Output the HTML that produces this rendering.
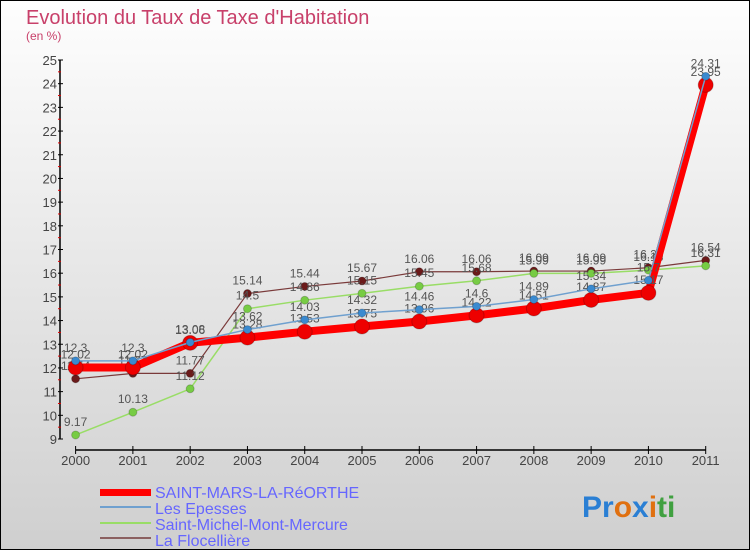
<!DOCTYPE html>
<html><head><meta charset="utf-8"><style>
body{margin:0;}
#c{width:750px;height:550px;position:relative;font-family:"Liberation Sans",sans-serif;}
</style></head><body>
<div id="c">
<svg id="s" width="750" height="550" xmlns="http://www.w3.org/2000/svg">
<defs><linearGradient id="bg" x1="0" y1="0" x2="0" y2="1"><stop offset="0" stop-color="#fefefe"/><stop offset="1" stop-color="#cfcfcf"/></linearGradient></defs>
<rect x="0.5" y="0.5" width="749" height="549" fill="url(#bg)" stroke="#000"/>
<text x="26" y="24" font-size="20" fill="#c8406a">Evolution du Taux de Taxe d'Habitation</text>
<text x="26" y="40" font-size="12" fill="#c8406a">(en %)</text>
<g id="axes"></g>
<g id="series"></g>
<g id="legend">
<rect x="100" y="489" width="51" height="7" fill="#f00"/>
<text x="155" y="498" font-size="16" fill="#6666ff">SAINT-MARS-LA-RéORTHE</text>
<rect x="100" y="506" width="51" height="2" fill="#6fa0cf"/>
<text x="155" y="514" font-size="16" fill="#6666ff">Les Epesses</text>
<rect x="100" y="522" width="51" height="2" fill="#99dd66"/>
<text x="155" y="530" font-size="16" fill="#6666ff">Saint-Michel-Mont-Mercure</text>
<rect x="100" y="537" width="51" height="2" fill="#8b6060"/>
<text x="155" y="546" font-size="16" fill="#6666ff">La Flocellière</text>
</g>
<text x="582" y="517" font-size="30" font-weight="bold"><tspan fill="#2a7fd4">Pr</tspan><tspan fill="#e07010">o</tspan><tspan fill="#2a7fd4">x</tspan><tspan fill="#e07010">i</tspan><tspan fill="#40a040">ti</tspan></text>
</svg>
</div>
<script>
const years=[2000,2001,2002,2003,2004,2005,2006,2007,2008,2009,2010,2011];
const yTicks=[9,10,11,12,13,14,15,16,17,18,19,20,21,22,23,24,25];
const stMars=[12.02,12.02,13.06,13.28,13.53,13.75,13.96,14.22,14.51,14.87,15.17,23.95];
const epesses=[12.3,12.3,13.08,13.62,14.03,14.32,14.46,14.6,14.89,15.34,15.7,24.31];
const stMichel=[9.17,10.13,11.12,14.5,14.86,15.15,15.45,15.68,15.99,15.99,16.13,16.31];
const flocel=[11.54,11.77,11.77,15.14,15.44,15.67,16.06,16.06,16.09,16.09,16.23,16.54];
const NS="http://www.w3.org/2000/svg";
function X(i){return 75.6+i*(705.7-75.6)/(years.length-1);}
function Y(v){return 439-(v-9)*(379/16);}
function el(t,a,p){const e=document.createElementNS(NS,t);for(const k in a)e.setAttribute(k,a[k]);p.appendChild(e);return e;}
const ax=document.getElementById('axes');
let yl=el('line',{x1:60,y1:Y(25),x2:60,y2:Y(9),stroke:'#000','stroke-width':1.5},ax);


yTicks.forEach(v=>{
 let t=el('line',{x1:58,x2:63,y1:Y(v),y2:Y(v),stroke:'#000'},ax);
 
 
 if(v<25){let m=el('line',{x1:58,x2:61,y1:Y(v+0.5),y2:Y(v+0.5),stroke:'#d00'},ax);
 
 }
 let l=el('text',{x:57,y:Y(v)+5,'font-size':13,fill:'#444','text-anchor':'end'},ax);l.textContent=v;
 
 
});
let xl=el('line',{x1:75.6,y1:450,x2:705.7,y2:450,stroke:'#000','stroke-width':1.5},ax);


years.forEach((yr,i)=>{
 let t=el('line',{x1:X(i),x2:X(i),y1:446,y2:454,stroke:'#000'},ax);
 
 
 let l=el('text',{x:X(i),y:465,'font-size':13,fill:'#444','text-anchor':'middle'},ax);l.textContent=yr;
 
 
});
const sg=document.getElementById('series');
function draw(vals,color,w,r,name,dot){
 const g=el('g',{},sg);
 
 
 let p=el('polyline',{points:vals.map((v,i)=>X(i)+','+Y(v)).join(' '),fill:'none',stroke:color,'stroke-width':w,'stroke-linejoin':'round'},g);
 
 
 vals.forEach((v,i)=>{
  let c=el('circle',{cx:X(i),cy:Y(v),r:r,fill:dot,stroke:'rgba(0,0,0,0.2)'},g);
  
  
  let t=el('text',{x:X(i),y:Y(v)-9,'font-size':12,fill:'#555','text-anchor':'middle'},g);t.textContent=v;
  
  
 });
}
draw(flocel,'#7a3a3a',1.2,4,'series-flocelliere','#6b1a1a');
draw(stMichel,'#99dd66',1.5,4,'series-saint-michel','#77cc44');
draw(stMars,'#ff0000',8,7.5,'series-saint-mars','#ee0000');
draw(epesses,'#6fa0cf',1.5,4,'series-epesses','#3a8ad0');
</script>
</body></html>
